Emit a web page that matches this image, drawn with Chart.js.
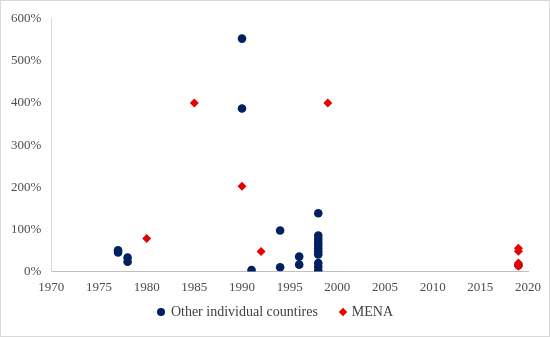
<!DOCTYPE html>
<html>
<head>
<meta charset="utf-8">
<title></title>
<script src="https://cdn.jsdelivr.net/npm/chart.js@4.4.0/dist/chart.umd.min.js"></script>
<style>
  body { margin: 0; background: #fff; }
  #wrap { position: relative; width: 548px; height: 335px; border: 1px solid #d9d9d9; }
  #box { position: absolute; left: 0; top: 0; width: 548px; height: 302px; }
  #legend { position: absolute; left: 0; top: 301px; width: 548px; height: 20px;
            display: flex; justify-content: center; align-items: center; gap: 22px;
            font-family: "Liberation Serif", serif; font-size: 14px; color: #404040; }
  #legend span.item { display: flex; align-items: center; }
  #legend i { display: inline-block; margin-right: 6px; }
</style>
</head>
<body>
<div id="wrap">
  <div id="box"><canvas id="chart"></canvas></div>
  <div id="legend"></div>
</div>
<script>
// blue series: other individual countries
var otherYears = [1977, 1977, 1978, 1978, 1990, 1990, 1991, 1994, 1994, 1996, 1996,
                  1998, 1998, 1998, 1998, 1998, 1998, 1998, 1998, 1998, 1998, 1998, 2019];
var otherVals  = [50, 45, 33, 23, 553, 387, 3, 97, 10, 35, 16,
                  138, 85, 77, 70, 63, 55, 47, 40, 20, 11, 2, 15];
// red series: MENA
var menaYears = [1980, 1985, 1990, 1992, 1999, 2019, 2019, 2019, 2019];
var menaVals  = [78, 400, 202, 47, 400, 55, 48, 20, 12];
var xTicks = [1970, 1975, 1980, 1985, 1990, 1995, 2000, 2005, 2010, 2015, 2020];

function pts(xs, ys) {
  return xs.map(function (x, i) { return { x: x, y: ys[i] }; });
}

var txt = '#4d4d4d';
var serif = "'Liberation Serif', 'DejaVu Serif', serif";

var chart = new Chart(document.getElementById('chart'), {
  type: 'scatter',
  data: {
    datasets: [{
      label: 'Other individual countires',
      data: pts(otherYears, otherVals),
      backgroundColor: '#002060',
      borderWidth: 0,
      pointStyle: 'circle',
      pointRadius: 4.3,
      pointHoverRadius: 4.3,
      order: 2
    }, {
      label: 'MENA',
      data: pts(menaYears, menaVals),
      backgroundColor: '#e60000',
      borderWidth: 0,
      pointStyle: 'rectRot',
      pointRadius: 4.5,
      pointHoverRadius: 4.5,
      order: 1
    }]
  },
  options: {
    responsive: true,
    maintainAspectRatio: false,
    animation: false,
    layout: { padding: { top: 7, right: 1, left: 0, bottom: 0 } },
    scales: {
      x: {
        type: 'linear',
        min: 1970, max: 2020,
        afterBuildTicks: function (axis) { axis.ticks = xTicks.map(function (v) { return { value: v }; }); },
        grid: { display: false, drawTicks: false },
        border: { color: '#bfbfbf', width: 1 },
        ticks: {
          color: txt, font: { family: serif, size: 13 }, padding: 8,
          callback: function (v) { return String(v); }
        }
      },
      y: {
        min: 0, max: 600,
        ticks: {
          stepSize: 100, color: txt, padding: 10,
          font: { family: serif, size: 13 },
          callback: function (v) { return v + '%'; }
        },
        grid: { display: false, drawTicks: false },
        border: { color: '#d9d9d9', width: 1 }
      }
    },
    plugins: {
      legend: { display: false },
      tooltip: { enabled: false }
    }
  }
});

// html legend built from the datasets
var lg = document.getElementById('legend');
lg.style.fontFamily = serif;
chart.data.datasets.forEach(function (ds) {
  var item = document.createElement('span');
  item.className = 'item';
  var m = document.createElement('i');
  if (ds.pointStyle === 'circle') {
    m.style.cssText = 'width:8px;height:8px;border-radius:50%;background:' + ds.backgroundColor;
  } else {
    m.style.cssText = 'width:6px;height:6px;transform:rotate(45deg);background:' + ds.backgroundColor;
  }
  item.appendChild(m);
  item.appendChild(document.createTextNode(ds.label));
  lg.appendChild(item);
});
</script>
</body>
</html>
